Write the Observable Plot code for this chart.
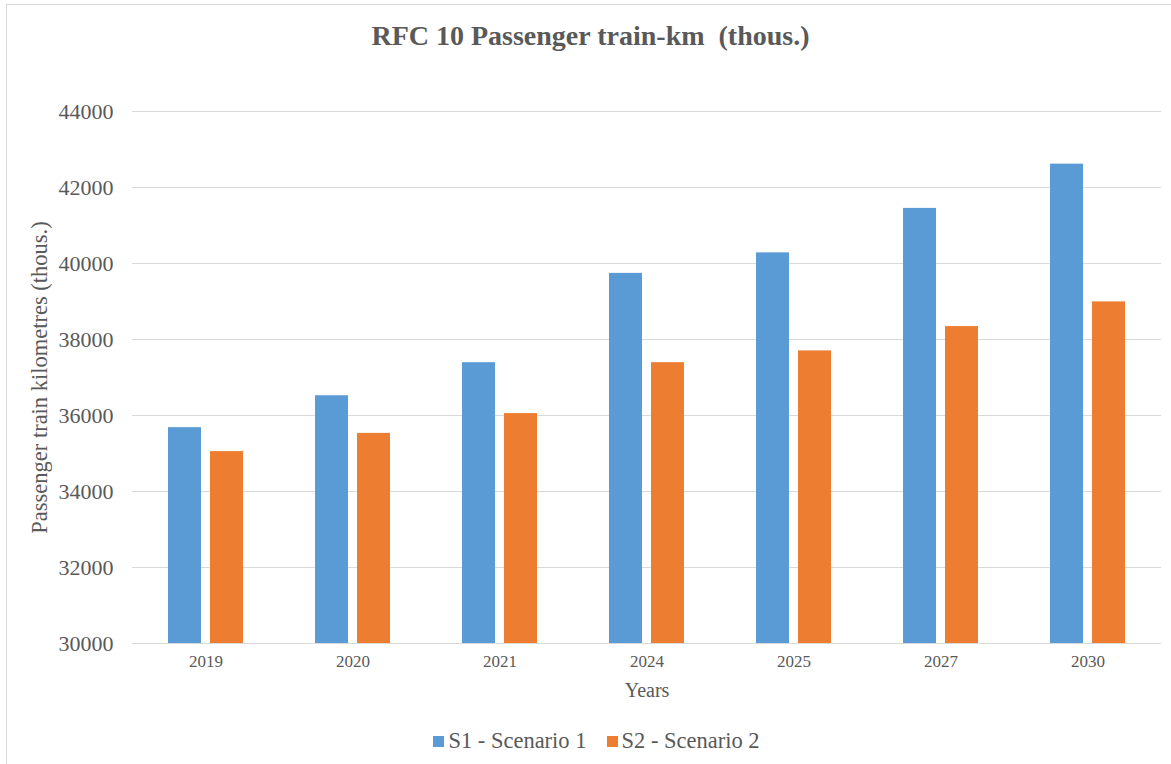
<!DOCTYPE html>
<html>
<head>
<meta charset="utf-8">
<script src="https://cdn.jsdelivr.net/npm/d3@7"></script>
<script src="https://cdn.jsdelivr.net/npm/@observablehq/plot@0.6"></script>
<style>
  html, body { margin: 0; padding: 0; background: #fff; }
  body { width: 1171px; height: 764px; overflow: hidden; position: relative; font-family: "Liberation Serif", "Times New Roman", serif; color: #595959; }
  #frame { position: absolute; left: 6px; top: 4px; width: 1200px; height: 800px; border: 1px solid #d9d9d9; pointer-events: none; }
  #title { height: 70px; box-sizing: border-box; padding-top: 20px; line-height: 32px; font-size: 28px; font-weight: bold; text-align: center; padding-left: 10px; }
  #chart svg { display: block; }
  #legend { height: 52px; box-sizing: border-box; padding-top: 16px; line-height: 26px; font-size: 22.5px; text-align: center; padding-left: 22px; }
  .item { display: inline-block; margin: 0 10px; }
  .sw { display: inline-block; width: 11px; height: 11px; margin-right: 4px; vertical-align: 1px; }
</style>
</head>
<body>
<div id="frame"></div>
<div id="title">RFC 10 Passenger train-km&nbsp; (thous.)</div>
<div id="chart"></div>
<div id="legend"></div>
<script>
const years = ["2019", "2020", "2021", "2024", "2025", "2027", "2030"];
const seriesKeys = ["S1", "S2"];
const seriesNames = ["S1 - Scenario 1", "S2 - Scenario 2"];
const seriesColors = ["#5b9bd5", "#ed7d31"];
const s1Values = [35680, 36520, 37390, 39740, 40280, 41450, 42615];
const s2Values = [35050, 35530, 36050, 37390, 37700, 38340, 38990];
const yTicks = [30000, 32000, 34000, 36000, 38000, 40000, 42000, 44000];
const yDomain = [30000, 44000];

const data = [];
years.forEach((yr, i) => {
  data.push({year: yr, series: "S1", value: s1Values[i]});
  data.push({year: yr, series: "S2", value: s2Values[i]});
});

const chart = Plot.plot({
  width: 1171,
  height: 642,
  marginTop: 41,
  marginBottom: 69,
  marginLeft: 132,
  marginRight: 10,
  style: {fontFamily: "'Liberation Serif', 'Times New Roman', serif", color: "#595959", background: "#fff"},
  fx: {domain: years, padding: 0},
  x: {domain: seriesKeys, paddingInner: 0.214, paddingOuter: 0.857, axis: null},
  y: {domain: yDomain},
  color: {domain: seriesKeys, range: seriesColors},
  marks: [
    Plot.gridY(yTicks, {stroke: "#d9d9d9", strokeOpacity: 1, strokeWidth: 1}),
    Plot.barY(data, {fx: "year", x: "series", y1: yDomain[0], y2: "value", fill: "series"}),
    Plot.axisY({ticks: yTicks, tickSize: 0, tickPadding: 19, fontSize: 22, tickFormat: d => String(d), label: null}),
    Plot.axisY({ticks: yTicks, tickSize: 0, tickFormat: () => "", fontSize: 22.5,
      label: "Passenger train kilometres (thous.)", labelAnchor: "center", labelOffset: 101, labelArrow: "none"}),
    Plot.axisFx({anchor: "bottom", tickSize: 0, tickPadding: 11, fontSize: 17, label: null}),
    Plot.axisFx({anchor: "bottom", tickSize: 0, tickFormat: () => "", fontSize: 20,
      label: "Years", labelAnchor: "center", labelOffset: 53, labelArrow: "none"})
  ]
});
document.getElementById("chart").appendChild(chart);

const legend = document.getElementById("legend");
seriesKeys.forEach((k, i) => {
  const it = document.createElement("span");
  it.className = "item";
  const sw = document.createElement("span");
  sw.className = "sw";
  sw.style.background = seriesColors[i];
  it.appendChild(sw);
  it.appendChild(document.createTextNode(seriesNames[i]));
  legend.appendChild(it);
});
</script>
</body>
</html>
